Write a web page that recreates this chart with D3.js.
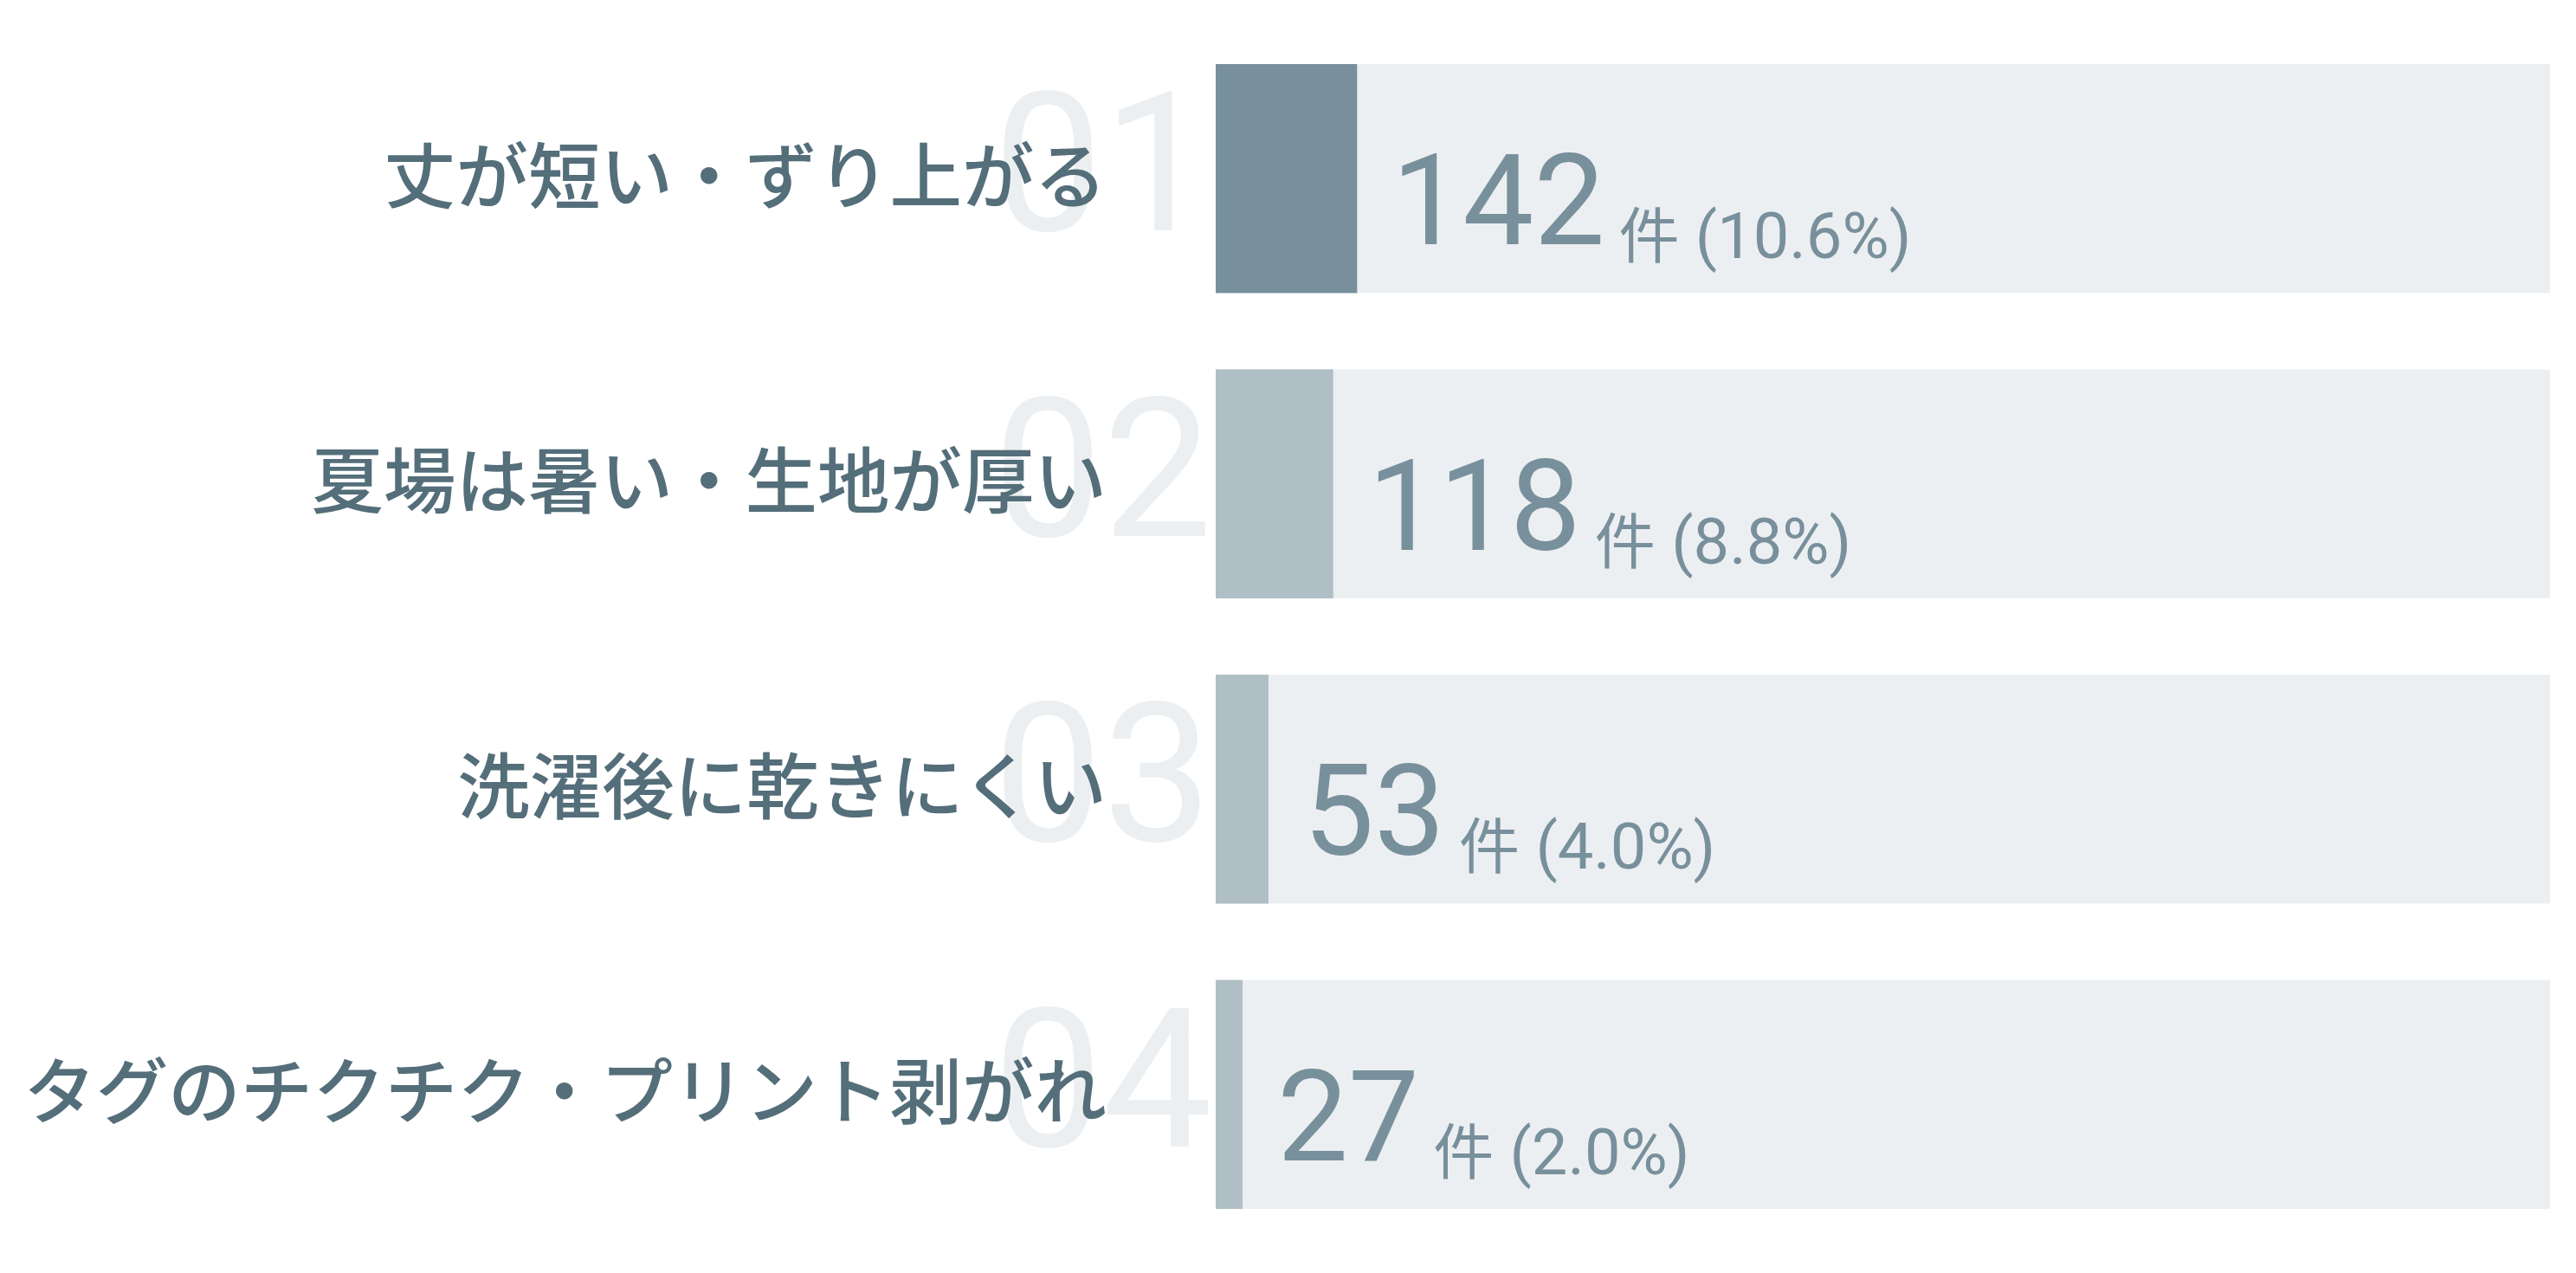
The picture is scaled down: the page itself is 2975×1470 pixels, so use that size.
<!DOCTYPE html>
<html lang="ja">
<head>
<meta charset="utf-8">
<script src="https://cdn.jsdelivr.net/npm/d3@7"></script>
<style>
  html, body { margin: 0; padding: 0; background: #ffffff; }
  svg { display: block; }
</style>
</head>
<body>
<svg id="chart" width="2975" height="1470"></svg>
<script>
// ---- data ----
const categories = [
  "丈が短い・ずり上がる",
  "夏場は暑い・生地が厚い",
  "洗濯後に乾きにくい",
  "タグのチクチク・プリント剥がれ"
];
const ranks = ["01", "02", "03", "04"];
const counts = [142, 118, 53, 27];
const shares = ["10.6%", "8.8%", "4.0%", "2.0%"];
const totalResponses = 1340;
const unitLabel = "件";

// ---- layout ----
const barLeft = 1404, barRight = 2945;
const svg = d3.select("#chart");

const y = d3.scaleBand()
  .domain(categories)
  .range([74, 1396])
  .paddingInner(0.25)
  .paddingOuter(0);

const x = d3.scaleLinear()
  .domain([0, totalResponses])
  .range([barLeft, barRight]);

const rows = categories.map((c, i) => ({
  cat: c, rank: ranks[i], count: counts[i], share: shares[i], i
}));

const g = svg.append("g");

// rank numbers (behind labels)
g.selectAll("text.rank").data(rows).join("text")
  .attr("class", "rank")
  .attr("x", barLeft - 4)
  .attr("y", d => y(d.cat) + y.bandwidth() / 2 + 60)
  .attr("text-anchor", "end")
  .attr("font-family", "Roboto, 'Noto Sans', sans-serif")
  .attr("font-weight", 400)
  .attr("font-size", 225)
  .attr("fill", "#eceff1")
  .text(d => d.rank);

// category labels
g.selectAll("text.cat").data(rows).join("text")
  .attr("class", "cat")
  .attr("x", 1278)
  .attr("y", d => y(d.cat) + y.bandwidth() / 2 - 9)
  .attr("dominant-baseline", "central")
  .attr("text-anchor", "end")
  .attr("font-family", "'Noto Sans CJK JP', sans-serif")
  .attr("font-weight", 500)
  .attr("font-size", 83.5)
  .attr("fill", "#546e7a")
  .text(d => d.cat);

// track
g.selectAll("rect.track").data(rows).join("rect")
  .attr("class", "track")
  .attr("x", x(0))
  .attr("y", d => y(d.cat))
  .attr("width", x(totalResponses) - x(0))
  .attr("height", y.bandwidth())
  .attr("fill", "#eceff1");

// value bars
g.selectAll("rect.val").data(rows).join("rect")
  .attr("class", "val")
  .attr("x", x(0))
  .attr("y", d => y(d.cat))
  .attr("width", d => x(d.count) - x(0))
  .attr("height", y.bandwidth())
  .attr("fill", d => d.i === 0 ? "#78909c" : "#b0bec5");

// value labels
const vl = g.selectAll("text.val").data(rows).join("text")
  .attr("class", "val")
  .attr("x", d => x(d.count) + 40)
  .attr("y", d => y(d.cat) + y.bandwidth() / 2 + 76)
  .attr("fill", "#78909c")
  .attr("font-family", "Roboto, 'Noto Sans', sans-serif");

vl.append("tspan")
  .attr("font-size", 146)
  .attr("font-weight", 400)
  .text(d => d.count);

vl.append("tspan")
  .attr("font-size", 70)
  .attr("dx", 16)
  .attr("dy", 16)
  .attr("font-family", "'Noto Sans CJK JP', sans-serif")
  .text(unitLabel);

vl.append("tspan")
  .attr("font-size", 74)
  .attr("dx", 0)
  .text(d => " (" + d.share + ")");
</script>
</body>
</html>
